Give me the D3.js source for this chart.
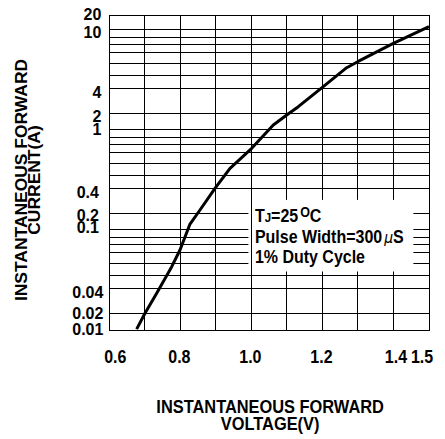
<!DOCTYPE html>
<html><head><meta charset="utf-8">
<script src="https://cdn.jsdelivr.net/npm/d3@7"></script>
<style>
html,body{margin:0;padding:0;background:#fff;}
svg{display:block;}
text{font-family:"Liberation Sans",Arial,Helvetica,sans-serif;font-weight:bold;fill:#000;}
</style>
</head><body>
<svg id="chart" width="445" height="439"></svg>
<script>
// ---- data ----
const voltage = [0.677,0.7005,0.7334,0.7757,0.799,0.8272,0.8553,0.8975,0.9398,1.0009,1.0617,1.0994,1.1321,1.1997,1.2683,1.2993,1.3995,1.5];
const current = [0.0102,0.0147,0.0233,0.043,0.0631,0.1148,0.1585,0.2612,0.414,0.656,1.122,1.413,1.71,2.673,4.198,4.82,7.36,10.79];
const xGridValues = [0.6,0.7,0.8,0.9,1.0,1.1,1.2,1.3,1.4,1.5];
const xTickValues = [0.6,0.8,1.0,1.2,1.4,1.5];
const xTickLabels = ["0.6","0.8","1.0","1.2","1.4","1.5"];
const yDecades = [0.01,0.1,1];
const yGridMultipliers = [1,1.46,2.62,3.5,4.66,5.9,7.08,8.42];
const yTopValue = 14.125;
const yTickValues = [14.125,10,2.62,1.46,1,0.262,0.146,0.1,0.0262,0.0146,0.01];
const yTickLabels = ["20","10","4","2","1","0.4","0.2","0.1","0.04","0.02","0.01"];
const xTitleLines = ["INSTANTANEOUS FORWARD","VOLTAGE(V)"];
const yTitleLines = ["INSTANTANEOUS FORWARD","CURRENT(A)"];

// ---- layout ----
const W = 445, H = 439;
const margin = {top:15, right:16, bottom:109, left:109.3};
const svg = d3.select("#chart");
const x = d3.scaleLinear().domain([0.6,1.5]).range([margin.left, W - margin.right]);
const y = d3.scaleLog().domain([0.01, yTopValue]).range([H - margin.bottom, margin.top]);
const FS = 16;

function label(sel, px, py, str, anchor, rotate, size, stretch) {
  return sel.append("text")
    .attr("transform", `translate(${px},${py}) scale(1,${stretch || 1.08})` + (rotate ? " rotate(-90)" : ""))
    .attr("text-anchor", anchor)
    .style("font-size", (size || FS) + "px")
    .text(str);
}

// gridlines
const hGrid = [];
yDecades.forEach(d => yGridMultipliers.forEach(m => hGrid.push(d*m)));
hGrid.push(10);

const grid = svg.append("g").attr("shape-rendering","crispEdges").attr("stroke","#000").attr("stroke-width",1);
grid.selectAll("line.h").data(hGrid).join("line")
  .attr("x1", x.range()[0]).attr("x2", x.range()[1])
  .attr("y1", d => y(d)).attr("y2", d => y(d));
grid.selectAll("line.v").data(xGridValues).join("line")
  .attr("x1", d => x(d)).attr("x2", d => x(d))
  .attr("y1", y.range()[0]).attr("y2", y.range()[1]);

// annotation box (white) with left edge on the 1.0 gridline
const boxL = x(1.0) - 3, boxR = x(1.456), boxT = y(0.2), boxB = y(0.0385);
svg.append("rect").attr("x", boxL).attr("y", boxT).attr("width", boxR - boxL).attr("height", boxB - boxT)
  .attr("fill","#fff");
svg.append("line").attr("shape-rendering","crispEdges").attr("stroke","#000")
  .attr("x1", x(1.0)).attr("x2", x(1.0)).attr("y1", boxT - 1).attr("y2", boxB + 1);

// frame
svg.append("rect").attr("shape-rendering","crispEdges")
  .attr("x", x.range()[0]).attr("y", y.range()[1])
  .attr("width", x.range()[1]-x.range()[0]).attr("height", y.range()[0]-y.range()[1])
  .attr("fill","none").attr("stroke","#000");

// curve
const pts = voltage.map((v,i) => [v, current[i]]);
svg.append("path").datum(pts)
  .attr("fill","none").attr("stroke","#000").attr("stroke-width",3).attr("stroke-linejoin","round")
  .attr("d", d3.line().x(d => x(d[0])).y(d => y(d[1])));

// annotation text
const ann = svg.append("g");
const ax = x(1.0) + 3.5;
const AS = 1.1;
const t1 = ann.append("text").attr("transform",`translate(${ax},${boxT+22.3}) scale(1,${AS})`).style("font-size","16px");
t1.append("tspan").text("T");
t1.append("tspan").style("font-size","11.5px").text("J");
t1.append("tspan").text("=25");
t1.append("tspan").style("font-size","12.5px").attr("dy",-5).attr("dx",2).text("O");
t1.append("tspan").attr("dy",5).text("C");
const t2 = ann.append("text").attr("transform",`translate(${ax},${boxT+43.3}) scale(1,${AS})`).style("font-size","16px");
t2.append("tspan").text("Pulse Width=300");
t2.append("tspan").attr("dx",2).style("font-style","italic").style("font-weight","normal").style("font-family","'DejaVu Sans',sans-serif").style("font-size","14px").text("\u03BC");
t2.append("tspan").text("S");
const t3 = ann.append("text").attr("transform",`translate(${ax},${boxT+63.3}) scale(1,${AS})`).style("font-size","16px");
t3.text("1% Duty Cycle");

// x tick labels
const lastXi = xTickValues.length - 1;
xTickValues.forEach((v,i) => {
  const dx = i === 0 ? 6 : (i === lastXi ? -7 : (v === 1.4 ? 2.5 : -1));
  label(svg, x(v) + dx, y.range()[0] + 32.5, xTickLabels[i], "middle", false, 16, 1.1);
});

// y tick labels
const yNudge = {"20":-1,"10":2,"2":2,"1":-1.5,"0.2":1,"0.1":-3,"0.02":-1,"0.01":-1};
yTickValues.forEach((v,i) => {
  const lab = yTickLabels[i];
  const nud = yNudge[lab] !== undefined ? yNudge[lab] : 3.5;
  const by = y(v) + nud + 6.1;
  if (v >= 1) label(svg, x.range()[0] - 8, by, lab, "end", false, 16, 1.05);
  else label(svg, x.range()[0] - 21.5, by, lab, "middle", false, 16, 1.05);
});

// axis titles
const cx = (x.range()[0] + x.range()[1]) / 2;
label(svg, cx + 1, 413.3, xTitleLines[0], "middle", false, 16.4, 1.15);
label(svg, cx + 1, 430, xTitleLines[1], "middle", false, 16.4, 1.15);
const cy = 180;
label(svg, 26.7, cy, yTitleLines[0], "middle", true, 16.3, 1.07);
label(svg, 40, cy, yTitleLines[1], "middle", true, 16.3, 1.07);
</script>
</body></html>
